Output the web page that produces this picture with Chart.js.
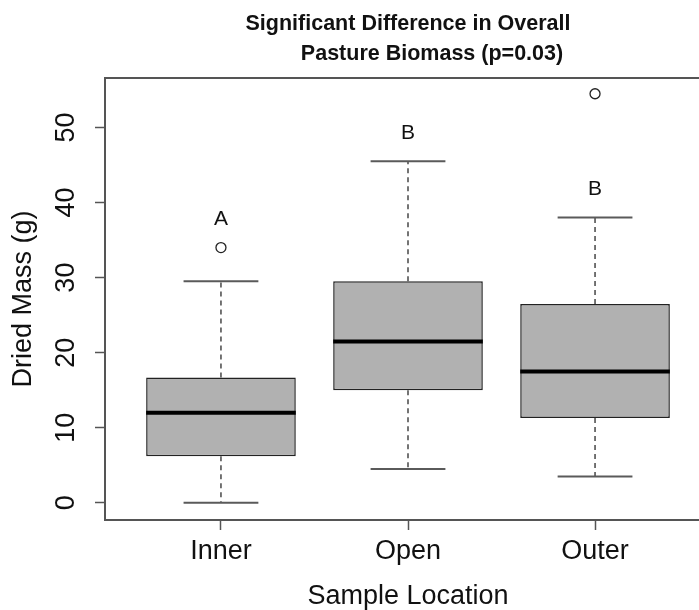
<!DOCTYPE html>
<html>
<head>
<meta charset="utf-8">
<title>Pasture Biomass by Sample Location</title>
<script src="https://cdn.jsdelivr.net/npm/chart.js@4.4.1/dist/chart.umd.min.js"></script>
<style>
  html, body { margin: 0; padding: 0; background: #ffffff; overflow: hidden; }
  #wrap { width: 730px; height: 610px; }
</style>
</head>
<body>
<div id="wrap"><canvas id="chart" width="730" height="610"></canvas></div>
<script>
// Sample locations and their five-number summaries (dried mass, g)
const categories  = ['Inner', 'Open', 'Outer'];
const whiskerLow  = [0.0, 4.5, 3.5];
const quartile1   = [6.2, 15.0, 11.3];
const medians     = [12.0, 21.5, 17.5];
const quartile3   = [16.7, 29.5, 26.5];
const whiskerHigh = [29.5, 45.5, 38.0];
const outliers    = [[34.0], [], [54.5]];

// Significance group letters and the height they sit at
const groupLetters = ['A', 'B', 'B'];
const letterY      = [38, 49.5, 42];

// Axis ticks
const xTicks = [1, 2, 3];
const yTicks = [0, 10, 20, 30, 40, 50];

const titleLines = ['Significant Difference in Overall', 'Pasture Biomass (p=0.03)'];
const xTitle = 'Sample Location';
const yTitle = 'Dried Mass (g)';

const FONT = '"Liberation Sans", Arial, Helvetica, sans-serif';

const boxData = categories.map((c, i) => ({ x: xTicks[i], y: [quartile1[i], quartile3[i]] }));
const outlierData = [];
outliers.forEach((list, i) => list.forEach(v => outlierData.push({ x: xTicks[i], y: v })));

// Whiskers, caps, medians, group letters, plot frame and the two-line title
const boxplotExtras = {
  id: 'boxplotExtras',
  afterDatasetsDraw(chart) {
    const { ctx, scales: { x, y } } = chart;
    ctx.save();
    categories.forEach((c, i) => {
      const cx = x.getPixelForValue(xTicks[i]);
      // dashed whiskers
      ctx.strokeStyle = '#3a3a3a';
      ctx.lineWidth = 1.4;
      ctx.setLineDash([5, 4]);
      ctx.beginPath();
      ctx.moveTo(cx, y.getPixelForValue(quartile3[i]));
      ctx.lineTo(cx, y.getPixelForValue(whiskerHigh[i]));
      ctx.moveTo(cx, y.getPixelForValue(quartile1[i]));
      ctx.lineTo(cx, y.getPixelForValue(whiskerLow[i]));
      ctx.stroke();
      // whisker caps
      ctx.setLineDash([]);
      ctx.strokeStyle = '#5a5a5a';
      ctx.lineWidth = 2;
      const capL = x.getPixelForValue(xTicks[i] - 0.2);
      const capR = x.getPixelForValue(xTicks[i] + 0.2);
      [whiskerHigh[i], whiskerLow[i]].forEach(v => {
        const py = y.getPixelForValue(v);
        ctx.beginPath();
        ctx.moveTo(capL, py);
        ctx.lineTo(capR, py);
        ctx.stroke();
      });
      // median bar
      ctx.strokeStyle = '#000000';
      ctx.lineWidth = 4;
      const my = y.getPixelForValue(medians[i]);
      ctx.beginPath();
      ctx.moveTo(x.getPixelForValue(xTicks[i] - 0.4), my);
      ctx.lineTo(x.getPixelForValue(xTicks[i] + 0.4), my);
      ctx.stroke();
      // group letter
      ctx.fillStyle = '#111111';
      ctx.font = '21px ' + FONT;
      ctx.textAlign = 'center';
      ctx.textBaseline = 'alphabetic';
      ctx.fillText(groupLetters[i], cx, y.getPixelForValue(letterY[i]) + 7.5);
    });
    // plot frame
    const a = chart.chartArea;
    ctx.strokeStyle = '#555555';
    ctx.lineWidth = 2;
    ctx.strokeRect(a.left, a.top, a.right - a.left, a.bottom - a.top);
    ctx.restore();
  },
  afterDraw(chart) {
    const { ctx } = chart;
    ctx.save();
    ctx.fillStyle = '#111111';
    ctx.font = 'bold 21.5px ' + FONT;
    ctx.textAlign = 'center';
    ctx.textBaseline = 'alphabetic';
    ctx.fillText(titleLines[0], 408, 30);
    ctx.fillText(titleLines[1], 432, 60);
    ctx.restore();
  }
};

new Chart(document.getElementById('chart'), {
  type: 'bar',
  data: {
    datasets: [
      {
        type: 'bar',
        label: 'Interquartile range',
        data: boxData,
        backgroundColor: '#b1b1b1',
        borderColor: '#222222',
        borderWidth: 1.5,
        borderSkipped: false,
        categoryPercentage: 1.0,
        barPercentage: 0.8,
        order: 2
      },
      {
        type: 'scatter',
        label: 'Outliers',
        data: outlierData,
        pointStyle: 'circle',
        pointRadius: 5,
        pointBorderWidth: 1.3,
        pointBorderColor: '#222222',
        pointBackgroundColor: 'rgba(0,0,0,0)',
        showLine: false,
        order: 1
      }
    ]
  },
  options: {
    responsive: false,
    devicePixelRatio: 1,
    animation: false,
    layout: { padding: { left: 0, right: 19, top: 78, bottom: 0 } },
    plugins: {
      legend: { display: false },
      tooltip: { enabled: false },
      title: { display: false }
    },
    scales: {
      x: {
        type: 'linear',
        min: 0.38,
        max: 3.62,
        offset: false,
        afterBuildTicks(scale) { scale.ticks = xTicks.map(v => ({ value: v })); },
        afterFit(scale) { scale.height = 90; },
        border: { display: false },
        grid: { offset: false, drawOnChartArea: false, drawTicks: true, tickLength: 10, tickColor: '#555555', tickWidth: 1.5 },
        ticks: {
          autoSkip: false,
          maxRotation: 0,
          padding: 5,
          color: '#111111',
          font: { family: FONT, size: 27 },
          callback: v => categories[Math.round(v) - 1] || ''
        },
        title: {
          display: true,
          text: xTitle,
          color: '#111111',
          font: { family: FONT, size: 27, lineHeight: 1.0 },
          padding: { top: 0, bottom: 0 }
        }
      },
      y: {
        type: 'linear',
        min: -2.3,
        max: 56.6,
        afterBuildTicks(scale) { scale.ticks = yTicks.map(v => ({ value: v })); },
        afterFit(scale) { scale.width = 105; },
        border: { display: false },
        grid: { drawOnChartArea: false, drawTicks: true, tickLength: 10, tickColor: '#555555', tickWidth: 1.5 },
        ticks: {
          minRotation: 90,
          maxRotation: 90,
          crossAlign: 'center',
          padding: 13,
          color: '#111111',
          font: { family: FONT, size: 27 },
          callback: v => String(v)
        },
        title: {
          display: true,
          text: yTitle,
          color: '#111111',
          font: { family: FONT, size: 27, lineHeight: 1.2 },
          padding: { top: 7, bottom: 0 }
        }
      }
    }
  },
  plugins: [boxplotExtras]
});
</script>
</body>
</html>
